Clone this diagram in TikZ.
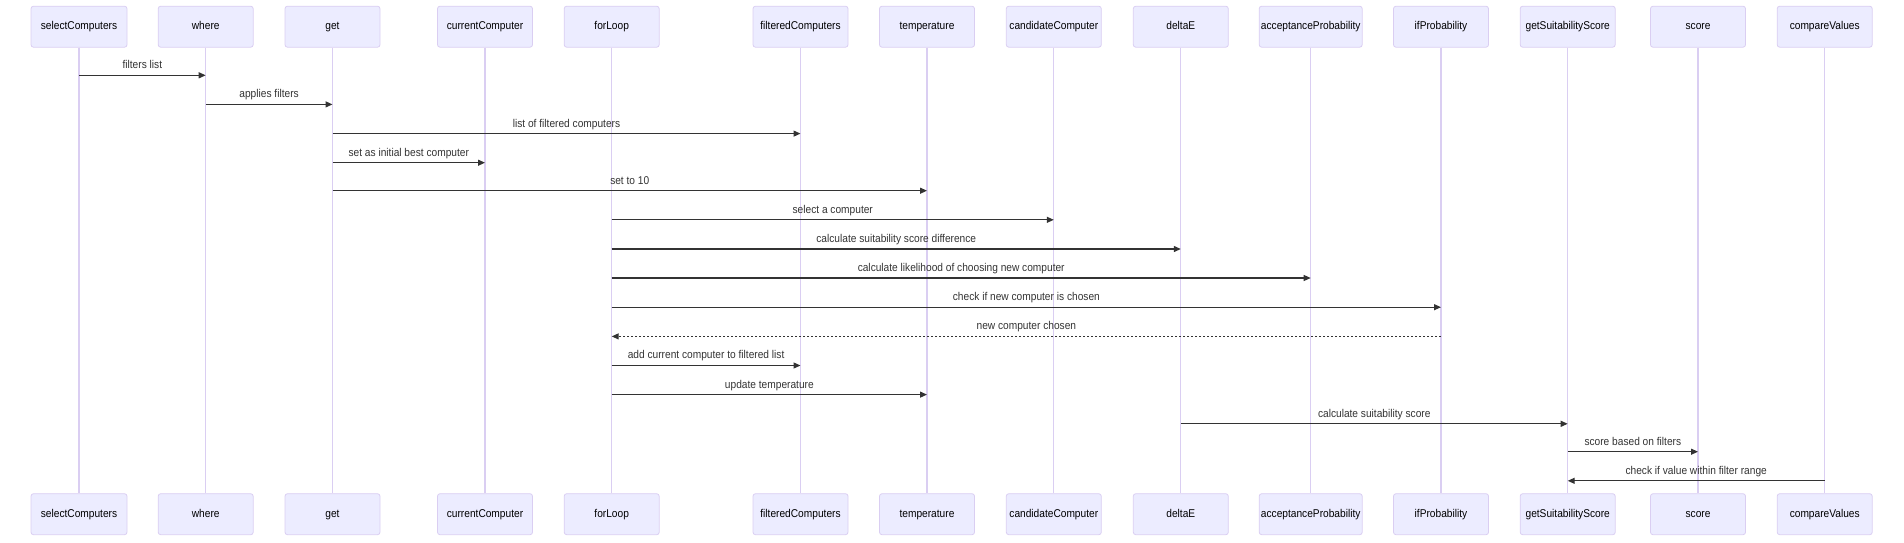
\documentclass[tikz,border=0pt]{standalone}
\usepackage{fontspec}
\setmainfont{Liberation Sans}[FakeStretch=0.9]
\usetikzlibrary{arrows.meta}
\definecolor{actorfill}{HTML}{ECECFF}
\definecolor{actorline}{HTML}{DACEF2}
\definecolor{msgcol}{HTML}{333333}
\tikzset{
    actor/.style={draw=actorline, fill=actorfill, rounded corners=2.5pt, line width=0.8pt,
        minimum height=41pt, inner sep=0pt, text height=8.2pt, text depth=2.4pt,
        text=black, font=\fontsize{11.3}{13}\selectfont},
    life/.style={draw=actorline, line width=1.2pt},
    msg/.style={draw=msgcol, line width=1.2pt, -{Triangle[length=7pt,width=6pt]}},
    reply/.style={msg, dash pattern=on 2pt off 2pt},
    msgtext/.style={text=msgcol, font=\fontsize{11.3}{13}\selectfont, inner sep=0pt,
        text height=8.2pt, text depth=2.4pt}
}
\begin{document}
\begin{tikzpicture}[x=1pt,y=-1pt]
\useasboundingbox (0,0) rectangle (1904,542);
% actors, top and bottom, with lifelines
\foreach \name/\x/\w in {selectComputers/79/96,where/205.7/95,get/332.5/95,
    currentComputer/485/95,forLoop/611.7/95,filteredComputers/800.5/95,
    temperature/927/95,candidateComputer/1053.8/95,deltaE/1180.8/95,
    acceptanceProbability/1310.7/103,ifProbability/1441/95,
    getSuitabilityScore/1567.7/95,score/1698/95,compareValues/1824.7/95}
{
    \node[actor, minimum width=\w pt] (\name) at (\x,26.7) {\name};
    \node[actor, minimum width=\w pt] (\name-b) at (\x,514.2) {\name};
    \draw[life] (\name) -- (\name-b);
}
% messages
\foreach \from/\to/\y/\txt in {selectComputers/where/75.3/filters list,
    where/get/104.4/applies filters,
    get/filteredComputers/133.6/list of filtered computers,
    get/currentComputer/162.7/set as initial best computer,
    get/temperature/190.7/set to 10,
    forLoop/candidateComputer/219.8/select a computer,
    forLoop/deltaE/249/calculate suitability score difference,
    forLoop/acceptanceProbability/278/calculate likelihood of choosing new computer,
    forLoop/ifProbability/307.2/check if new computer is chosen,
    forLoop/filteredComputers/365.5/add current computer to filtered list,
    forLoop/temperature/394.6/update temperature,
    deltaE/getSuitabilityScore/423.8/calculate suitability score,
    getSuitabilityScore/score/451.7/score based on filters,
    compareValues/getSuitabilityScore/480.8/check if value within filter range}
{
    \draw[msg] (\from.south |- 0,\y) -- (\to.south |- 0,\y)
        node[msgtext, midway, yshift=9.5pt] {\txt};
}
\draw[reply] (ifProbability.south |- 0,336.4) -- (forLoop.south |- 0,336.4)
    node[msgtext, midway, yshift=9.5pt] {new computer chosen};
\end{tikzpicture}
\end{document}
